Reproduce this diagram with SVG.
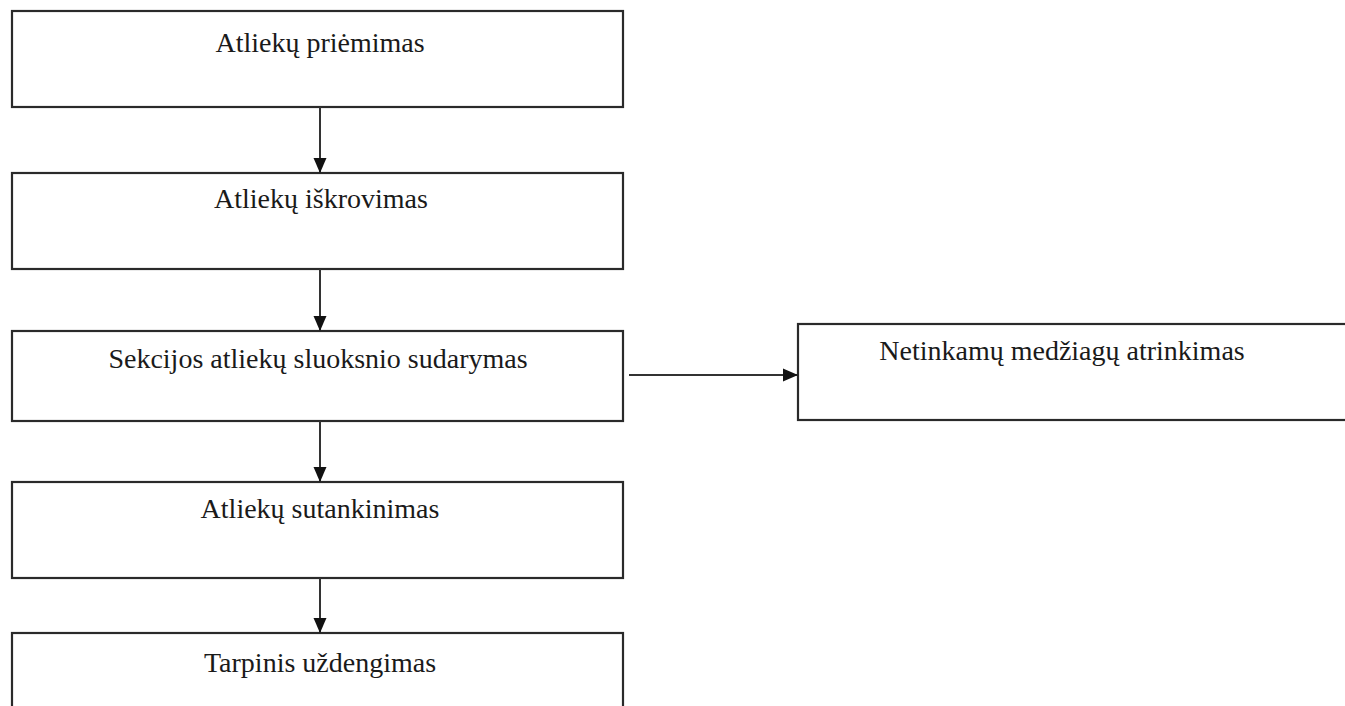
<svg xmlns="http://www.w3.org/2000/svg" width="1345" height="706" viewBox="0 0 1345 706">
<style>
.box{fill:#fff;stroke:#2a2a2a;stroke-width:2.2}
.lbl{font-family:"Liberation Serif","Times New Roman",serif;font-size:28px;fill:#1a1a1a;text-anchor:middle}
.conn{stroke:#333;stroke-width:2;fill:none;marker-end:url(#ah)}
</style>
<defs>
<marker id="ah" markerWidth="16" markerHeight="16" refX="14" refY="8" orient="auto" markerUnits="userSpaceOnUse">
<path d="M0,1.5 L15,8 L0,14.5 Z" fill="#111"/>
</marker>
</defs>
<rect width="1345" height="706" fill="#fff"/>
<g id="n1"><rect class="box" x="12" y="11" width="611" height="96"/><text class="lbl" x="320" y="52">Atliekų priėmimas</text></g>
<g id="n2"><rect class="box" x="12" y="173" width="611" height="96"/><text class="lbl" x="321" y="208">Atliekų iškrovimas</text></g>
<g id="n3"><rect class="box" x="12" y="331" width="611" height="90"/><text class="lbl" x="318" y="368">Sekcijos atliekų sluoksnio sudarymas</text></g>
<g id="n4"><rect class="box" x="12" y="482" width="611" height="96"/><text class="lbl" x="320" y="518">Atliekų sutankinimas</text></g>
<g id="n5"><rect class="box" x="12" y="633" width="611" height="80"/><text class="lbl" x="320" y="672">Tarpinis uždengimas</text></g>
<g id="n6"><rect class="box" x="798" y="324" width="560" height="96"/><text class="lbl" x="1062" y="360">Netinkamų medžiagų atrinkimas</text></g>
<g id="connectors">
<line class="conn" x1="320" y1="107" x2="320" y2="172"/>
<line class="conn" x1="320" y1="269" x2="320" y2="330"/>
<line class="conn" x1="320" y1="421" x2="320" y2="481"/>
<line class="conn" x1="320" y1="578" x2="320" y2="632"/>
<line class="conn" x1="629" y1="375" x2="797" y2="375"/>
</g>
</svg>
